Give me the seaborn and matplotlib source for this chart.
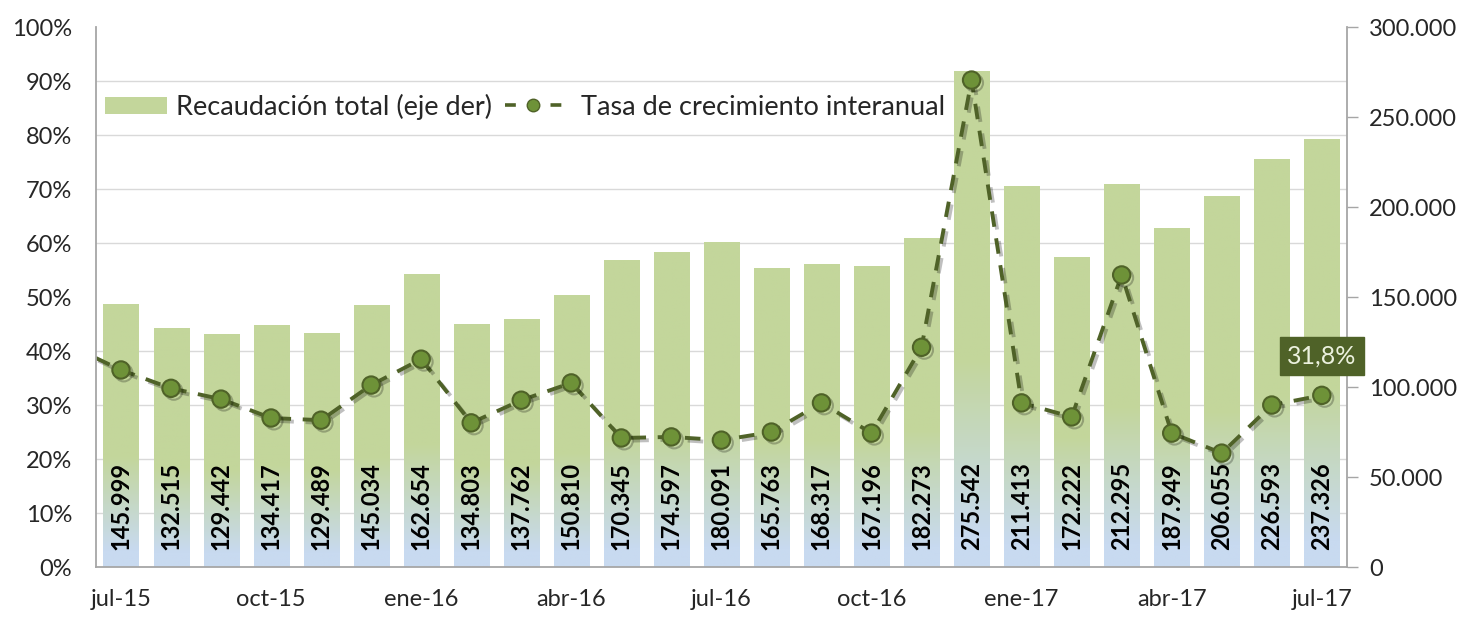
import numpy as np
import pandas as pd
import seaborn as sns
import matplotlib.pyplot as plt
import matplotlib.patheffects as pe
from matplotlib.colors import LinearSegmentedColormap
from matplotlib.patches import Patch
from matplotlib.lines import Line2D

meses = ["jul-15", "ago-15", "sep-15", "oct-15", "nov-15", "dic-15", "ene-16", "feb-16",
         "mar-16", "abr-16", "may-16", "jun-16", "jul-16", "ago-16", "sep-16", "oct-16",
         "nov-16", "dic-16", "ene-17", "feb-17", "mar-17", "abr-17", "may-17", "jun-17", "jul-17"]
recaudacion = [145999, 132515, 129442, 134417, 129489, 145034, 162654, 134803, 137762, 150810,
               170345, 174597, 180091, 165763, 168317, 167196, 182273, 275542, 211413, 172222,
               212295, 187949, 206055, 226593, 237326]
tasa = [36.5, 33.1, 31.1, 27.6, 27.2, 33.7, 38.5, 26.7, 30.9, 34.1, 23.9, 24.1, 23.5,
        25.0, 30.4, 24.8, 40.7, 90.2, 30.4, 27.8, 54.1, 24.8, 21.1, 30.0, 31.8]
tasa_jun15 = 40.9  # previous month, only its segment shows at the left edge
ticks_mes = ["jul-15", "oct-15", "ene-16", "abr-16", "jul-16", "oct-16", "ene-17", "abr-17", "jul-17"]

verde = "#C3D69B"
azul = "#C8DAF0"
oliva = "#4F6228"
verde_med = "#6E9238"
gris = "#A6A6A6"
txt = "#262626"

sns.set_style("white")
plt.rcParams["font.family"] = ["Lato", "DejaVu Sans"]

df_bar = pd.DataFrame({"pos": range(len(meses)), "rec": recaudacion})
df_line = pd.DataFrame({"pos": range(-1, len(meses)), "tasa": [tasa_jun15] + tasa})

fig = plt.figure(figsize=(14.63, 6.17), dpi=100)
ax = fig.add_axes([0.0656, 0.081, 0.855, 0.875])
ax2 = ax.twinx()
ax.set_zorder(ax2.get_zorder() + 1)
ax.patch.set_visible(False)

# bars (right axis)
sns.barplot(data=df_bar, x="pos", y="rec", ax=ax2, color=verde, width=0.7, saturation=1)
cmap = LinearSegmentedColormap.from_list("g", [(0, azul), (0.06, azul), (0.42, verde), (1, verde)])
grad = np.linspace(0, 1, 256).reshape(-1, 1)
for bar in ax2.patches:
    x0, w, h = bar.get_x(), bar.get_width(), bar.get_height()
    ax2.imshow(grad, extent=[x0, x0 + w, 0, h], origin="lower", aspect="auto",
               cmap=cmap, zorder=1.5)
    bar.set_visible(False)

for i, v in enumerate(recaudacion):
    ax2.annotate(f"{v:,}".replace(",", "."), (i, 0), xytext=(0, 12), textcoords="offset points",
                 rotation=90, ha="center", va="bottom", fontsize=17, fontweight="bold",
                 color="black", zorder=3)

# line (left axis)
sns.lineplot(data=df_line, x="pos", y="tasa", ax=ax, color=oliva, linewidth=2.8,
             linestyle=(0, (4, 3)), marker="o", markersize=12.5, markerfacecolor=verde_med,
             markeredgecolor=oliva, markeredgewidth=1.5,
             path_effects=[pe.SimpleLineShadow(offset=(2, -2), alpha=0.25), pe.Normal()])

ax.annotate("31,8%", (24, tasa[-1]), xytext=(0, 28), textcoords="offset points",
            ha="center", va="center", fontsize=18, color="#EBF1DE",
            bbox=dict(boxstyle="square,pad=0.3", fc=oliva, ec=oliva), zorder=5)

# axes
ax.set_xlim(-0.5, len(meses) - 0.5)
ax2.set_xlim(-0.5, len(meses) - 0.5)
ax.set_ylim(0, 100)
ax2.set_ylim(0, 300000)

ax.set_yticks(np.arange(0, 101, 10))
ax.set_yticklabels([f"{v}%" for v in range(0, 101, 10)])
ax2.set_yticks(np.arange(0, 300001, 50000))
ax2.set_yticklabels([f"{v:,}".replace(",", ".") for v in range(0, 300001, 50000)])
ax2.set_yticks(np.arange(0, 300001, 30000), minor=True)
ax2.set_axisbelow(True)
ax2.grid(which="minor", axis="y", color="#D9D9D9", linewidth=1)
ax2.grid(which="major", visible=False)

pos_ticks = [meses.index(m) for m in ticks_mes]
ax.set_xticks(pos_ticks)
ax.set_xticklabels(ticks_mes)
ax.set_xlabel("")
ax.set_ylabel("")
ax2.set_xlabel("")
ax2.set_ylabel("")

ax.tick_params(axis="y", length=0, pad=17, labelsize=17, labelcolor=txt)
ax.tick_params(axis="x", length=0, pad=16, labelsize=17, labelcolor=txt)
ax2.tick_params(axis="y", which="major", length=8, width=1, color=gris, pad=8,
                labelsize=17, labelcolor=txt)
ax2.tick_params(axis="y", which="minor", length=0)

for s in ["top", "right"]:
    ax.spines[s].set_visible(False)
for s in ["top", "left", "bottom"]:
    ax2.spines[s].set_visible(False)
for s in ["left", "bottom"]:
    ax.spines[s].set_color(gris)
    ax.spines[s].set_linewidth(1.3)
ax2.spines["right"].set_color(gris)
ax2.spines["right"].set_linewidth(1.3)

# two legend entries, each with its own handle length
leg1 = ax.legend([Patch(facecolor=verde, edgecolor="none")], ["Recaudación total (eje der)"],
                 loc="center left", bbox_to_anchor=(0.007, 0.852), frameon=False,
                 fontsize=19.5, handlelength=2.3, handleheight=0.55, handletextpad=0.33,
                 labelcolor=txt, borderaxespad=0, borderpad=0)
ax.add_artist(leg1)
ax.legend([Line2D([], [], color=oliva, lw=2.6, ls=(0, (3, 3.3)), marker="o", markersize=9,
                  markerfacecolor=verde_med, markeredgecolor=oliva)],
          ["Tasa de crecimiento interanual"],
          loc="center left", bbox_to_anchor=(0.327, 0.852), frameon=False,
          fontsize=19.5, handlelength=2.1, handletextpad=0.7, labelcolor=txt,
          borderaxespad=0, borderpad=0)

fig.savefig("out.png", dpi=100)
